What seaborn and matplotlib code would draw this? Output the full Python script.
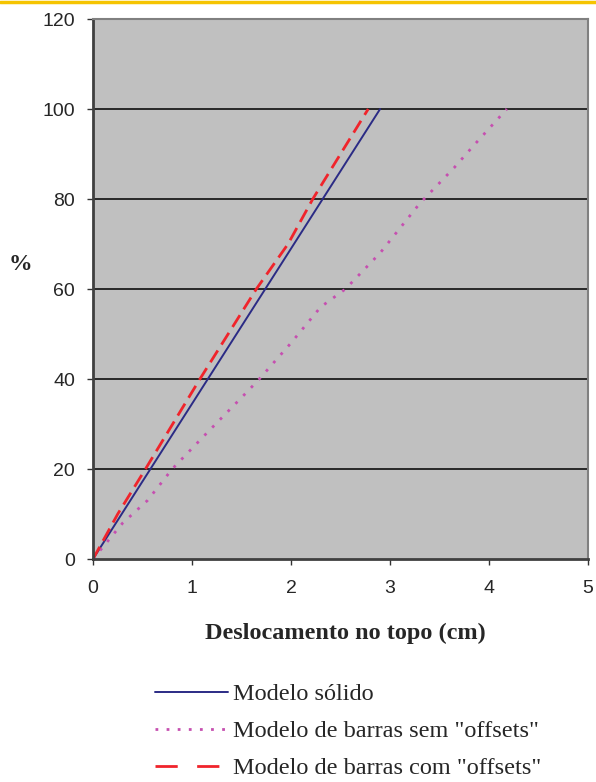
import matplotlib
matplotlib.use("Agg")
import matplotlib.pyplot as plt
import seaborn as sns
import pandas as pd
from matplotlib.lines import Line2D

# Data
solid_x = [0.0, 2.9]
solid_y = [0, 100]
sem_x = [0.0, 0.3, 0.55, 0.8, 1.15, 1.55, 1.68, 2.0, 2.3, 2.55, 2.9, 3.3, 3.65, 3.85, 4.18]
sem_y = [0, 8, 13, 20, 28, 37, 40, 48, 56, 60, 68, 79, 87, 92, 100]
com_x = [0.0, 0.25, 0.53, 1.08, 1.65, 1.97, 2.22, 2.78]
com_y = [0, 10, 20, 40, 60, 70, 80, 100]
labels = ["Modelo sólido", 'Modelo de barras sem "offsets"', 'Modelo de barras com "offsets"']
xticks = [0, 1, 2, 3, 4, 5]
yticks = [0, 20, 40, 60, 80, 100, 120]

sns.set_style("white")
plt.rcParams['font.family'] = ['Liberation Sans', 'DejaVu Sans']

df = pd.concat([
    pd.DataFrame({"x": solid_x, "y": solid_y, "s": labels[0]}),
    pd.DataFrame({"x": sem_x, "y": sem_y, "s": labels[1]}),
    pd.DataFrame({"x": com_x, "y": com_y, "s": labels[2]}),
])

colors = ["#2B2B85", "#C64FB0", "#F0242B"]
styles = ["-", (0, (1, 3)), (0, (5, 2.5))]
widths = [1.4, 2.0, 2.0]

fig = plt.figure(figsize=(5.96, 7.82), dpi=100)
ax = fig.add_axes([93/596, 1-559/782, (588-93)/596, (559-19)/782])
ax.set_facecolor("#C0C0C0")

for lab, c, ls, lw in zip(labels, colors, styles, widths):
    sub = df[df["s"] == lab]
    sns.lineplot(data=sub, x="x", y="y", ax=ax, color=c, linestyle=ls, lw=lw,
                 sort=False, estimator=None, legend=False)

ax.set_xlim(0, 5)
ax.set_ylim(0, 120)
ax.set_xticks(xticks)
ax.set_yticks(yticks)
ax.tick_params(axis="both", direction="out", length=4.3, width=1, labelsize=14,
               color="#333333", left=True, bottom=True)
ax.tick_params(axis="y", pad=8.5)
ax.tick_params(axis="x", pad=11)
for yv in yticks[1:-1]:
    ax.axhline(yv, color="black", lw=1.1, zorder=1)
for side in ["top", "right"]:
    ax.spines[side].set_color("#808080")
    ax.spines[side].set_linewidth(1.5)
for side in ["left", "bottom"]:
    ax.spines[side].set_color("#404040")
    ax.spines[side].set_linewidth(2)

ax.set_xlabel("")
ax.set_ylabel("")
fig.text(345/596, 1-633/782, "Deslocamento no topo (cm)", family=["Liberation Serif"],
         fontweight="bold", fontsize=17.5, ha="center", va="center")
fig.text(20/596, 1-264/782, "%", family=["Liberation Serif"], fontweight="bold",
         fontsize=17, ha="center", va="center")

leg_styles = ["-", (0, (1, 3)), (0, (8, 7))]
handles = [Line2D([0], [0], color=c, linestyle=ls, lw=lw) for c, ls, lw in zip(colors, leg_styles, widths)]
fig.legend(handles, labels, loc="upper left", bbox_to_anchor=(155/596, 1-683/782),
           frameon=False, prop={"family": "Liberation Serif", "size": 17.5},
           handlelength=3.0, handletextpad=0.2, labelspacing=0.62, borderaxespad=0,
           borderpad=0)

fig.add_artist(Line2D([0, 1], [0.998, 0.998], color="#F5C400", lw=2.5, transform=fig.transFigure))

fig.savefig("out.png", dpi=100)
